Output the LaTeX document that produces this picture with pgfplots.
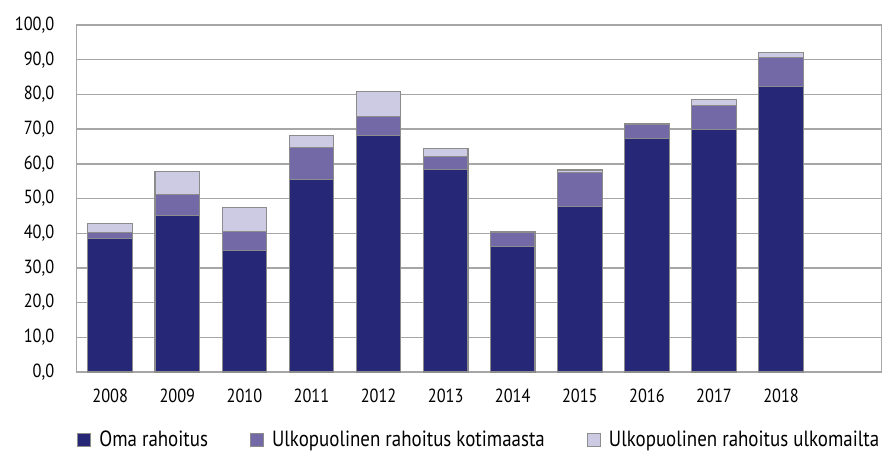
\documentclass[border=0pt]{standalone}
\usepackage{fontspec}
\setmainfont{PT Sans}[FakeStretch=0.86]
\usepackage{pgfplots}
\pgfplotsset{compat=1.18}
\definecolor{cA}{HTML}{262777}
\definecolor{cB}{HTML}{7369A6}
\definecolor{cC}{HTML}{CCCBE3}
\definecolor{edge}{HTML}{8C8C8C}
\definecolor{gridc}{HTML}{A6A6A6}
\begin{document}
\fontsize{19pt}{22pt}\selectfont
\begin{tikzpicture}
\begin{axis}[name=ax,
  scale only axis, width=805pt, height=347pt,
  ybar stacked, bar width=44.6pt,
  xmin=-0.5, xmax=11.5, ymin=0, ymax=100,
  xtick={0,...,10},
  xticklabels={2008,2009,2010,2011,2012,2013,2014,2015,2016,2017,2018},
  ytick={0,10,...,100},
  major tick length=0pt,
  ymajorgrids, grid style={gridc, line width=1.4pt},
  axis line style={gridc, line width=1.4pt},
  yticklabel style={xshift=-16pt},
  xticklabel style={yshift=-10pt},
  /pgf/number format/.cd, fixed, fixed zerofill, precision=1, use comma, 1000 sep={}, assume math mode=true,
  /pgfplots/.cd,
  every axis plot/.append style={draw=edge, line width=1.1pt},
  legend columns=3,
  legend style={draw=none, at={(0.5,-0.196)}, anchor=center, font=\fontsize{22pt}{24pt}\selectfont,
    /tikz/every odd column/.append style={column sep=6pt},
    /tikz/every even column/.append style={column sep=40pt}},
  legend image code/.code={\draw[#1] (0pt,-6.5pt) rectangle (13pt,6.5pt);},
]
\addplot[fill=cA] coordinates {(0,38.6) (1,45.2) (2,35.0) (3,55.6) (4,68.1) (5,58.4) (6,36.1) (7,47.6) (8,67.3) (9,69.9) (10,82.2)};
\addplot[fill=cB] coordinates {(0,1.7) (1,5.9) (2,5.5) (3,9.2) (4,5.6) (5,3.8) (6,4.0) (7,9.9) (8,4.0) (9,6.9) (10,8.5)};
\addplot[fill=cC] coordinates {(0,2.6) (1,6.6) (2,6.8) (3,3.3) (4,7.1) (5,2.2) (6,0.5) (7,0.7) (8,0.3) (9,1.8) (10,1.3)};
\legend{Oma rahoitus, Ulkopuolinen rahoitus kotimaasta, Ulkopuolinen rahoitus ulkomailta}
\end{axis}
\path (ax.south west) ++(-76.7pt,-86pt) rectangle ++(885pt,458pt);
\end{tikzpicture}
\end{document}
